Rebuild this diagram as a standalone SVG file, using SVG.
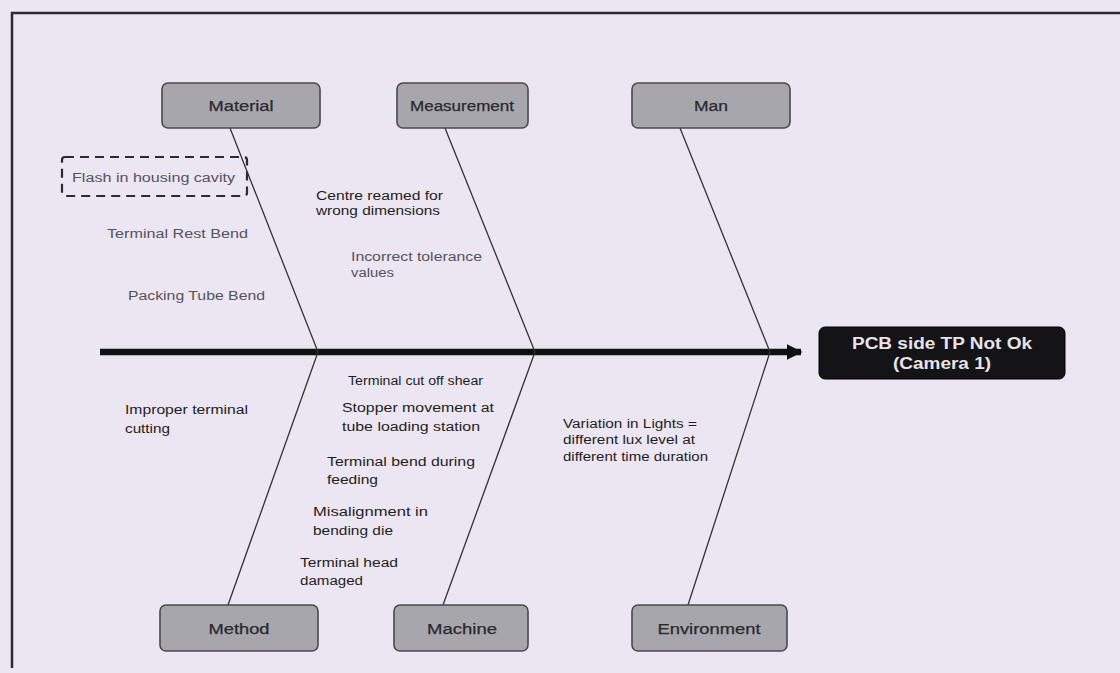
<svg xmlns="http://www.w3.org/2000/svg" width="1120" height="673" viewBox="0 0 1120 673">
  <defs>
    <marker id="spineHead" viewBox="0 0 10 10" refX="9" refY="5" markerWidth="2.4" markerHeight="2.4" orient="auto" markerUnits="strokeWidth">
      <path d="M0,0 L10,5 L0,10 z" fill="#111"/>
    </marker>
    <style>
      .frame { fill: none; stroke: #2a2830; stroke-width: 2.5; }
      .cat rect { fill: #a8a6ad; stroke: #4a4850; stroke-width: 1.6; }
      .cat text { font-family: "Liberation Sans", Arial, sans-serif; font-size: 14px; fill: #2a2a2e; stroke: #2a2a2e; stroke-width: 0.25; text-anchor: middle; }
      .bone { stroke: #333; stroke-width: 1.3; fill: none; }
      .spine { stroke: #111; stroke-width: 6.5; fill: none; }
      .cause { font-family: "Liberation Sans", Arial, sans-serif; font-size: 12.5px; fill: #1e1e22; }
      .cause.soft { fill: #55535a; }
      .effect rect { fill: #141316; stroke: #000; stroke-width: 1; }
      .effect text { font-family: "Liberation Sans", Arial, sans-serif; font-size: 16px; font-weight: bold; fill: #e6e3ea; text-anchor: middle; }
      .dashed { fill: none; stroke: #2c2a33; stroke-width: 2.2; stroke-dasharray: 9 6; }
    </style>
  </defs>

  <!-- page background -->
  <rect x="0" y="0" width="1120" height="673" fill="#ece5f2"/>
  <path class="frame" d="M12,668 L12,13 L1120,13"/>

  <!-- spine and category bones -->
  <g id="connectors">
    <line class="spine" x1="100" y1="352" x2="801" y2="352" marker-end="url(#spineHead)"/>
    <polyline class="bone" points="230,128 318,352 228,605"/>
    <polyline class="bone" points="445,128 535,352 443,605"/>
    <polyline class="bone" points="680,128 770,352 688,605"/>
  </g>

  <!-- category boxes -->
  <g id="material" class="cat">
    <rect x="162" y="83" width="158" height="45" rx="6"/>
    <text x="241" y="111" textLength="65" lengthAdjust="spacingAndGlyphs">Material</text>
  </g>
  <g id="measurement" class="cat">
    <rect x="397" y="83" width="131" height="45" rx="6"/>
    <text x="462" y="111" textLength="104" lengthAdjust="spacingAndGlyphs">Measurement</text>
  </g>
  <g id="man" class="cat">
    <rect x="632" y="83" width="158" height="45" rx="6"/>
    <text x="711" y="111" textLength="34" lengthAdjust="spacingAndGlyphs">Man</text>
  </g>
  <g id="method" class="cat">
    <rect x="160" y="605" width="158" height="46" rx="6"/>
    <text x="239" y="634" textLength="61" lengthAdjust="spacingAndGlyphs">Method</text>
  </g>
  <g id="machine" class="cat">
    <rect x="394" y="605" width="134" height="46" rx="6"/>
    <text x="462" y="634" textLength="70" lengthAdjust="spacingAndGlyphs">Machine</text>
  </g>
  <g id="environment" class="cat">
    <rect x="632" y="605" width="155" height="46" rx="6"/>
    <text x="709" y="634" textLength="103" lengthAdjust="spacingAndGlyphs">Environment</text>
  </g>

  <!-- effect -->
  <g id="effect" class="effect">
    <rect x="819" y="327" width="246" height="52" rx="6"/>
    <text x="942" y="349" textLength="180" lengthAdjust="spacingAndGlyphs">PCB side TP Not Ok</text>
    <text x="942" y="369" textLength="98" lengthAdjust="spacingAndGlyphs">(Camera 1)</text>
  </g>

  <!-- material causes -->
  <g id="material-causes">
    <rect class="dashed" x="62" y="157" width="185" height="39" rx="3"/>
    <text class="cause soft" x="72" y="182" textLength="163" lengthAdjust="spacingAndGlyphs">Flash in housing cavity</text>
    <text class="cause soft" x="107" y="238" textLength="141" lengthAdjust="spacingAndGlyphs">Terminal Rest Bend</text>
    <text class="cause soft" x="128" y="300" textLength="137" lengthAdjust="spacingAndGlyphs">Packing Tube Bend</text>
  </g>

  <!-- measurement causes -->
  <g id="measurement-causes">
    <text class="cause" x="316" y="200" textLength="127" lengthAdjust="spacingAndGlyphs">Centre reamed for</text>
    <text class="cause" x="316" y="215" textLength="124" lengthAdjust="spacingAndGlyphs">wrong dimensions</text>
    <text class="cause soft" x="351" y="261" textLength="131" lengthAdjust="spacingAndGlyphs">Incorrect tolerance</text>
    <text class="cause soft" x="351" y="277" textLength="43" lengthAdjust="spacingAndGlyphs">values</text>
  </g>

  <!-- method causes -->
  <g id="method-causes">
    <text class="cause" x="125" y="414" textLength="123" lengthAdjust="spacingAndGlyphs">Improper terminal</text>
    <text class="cause" x="125" y="433" textLength="45" lengthAdjust="spacingAndGlyphs">cutting</text>
  </g>

  <!-- machine causes -->
  <g id="machine-causes">
    <text class="cause" x="348" y="385" textLength="135" lengthAdjust="spacingAndGlyphs">Terminal cut off shear</text>
    <text class="cause" x="342" y="412" textLength="152" lengthAdjust="spacingAndGlyphs">Stopper movement at</text>
    <text class="cause" x="342" y="431" textLength="138" lengthAdjust="spacingAndGlyphs">tube loading station</text>
    <text class="cause" x="327" y="466" textLength="148" lengthAdjust="spacingAndGlyphs">Terminal bend during</text>
    <text class="cause" x="327" y="484" textLength="51" lengthAdjust="spacingAndGlyphs">feeding</text>
    <text class="cause" x="313" y="516" textLength="115" lengthAdjust="spacingAndGlyphs">Misalignment in</text>
    <text class="cause" x="313" y="535" textLength="80" lengthAdjust="spacingAndGlyphs">bending die</text>
    <text class="cause" x="300" y="567" textLength="98" lengthAdjust="spacingAndGlyphs">Terminal head</text>
    <text class="cause" x="300" y="585" textLength="63" lengthAdjust="spacingAndGlyphs">damaged</text>
  </g>

  <!-- environment causes -->
  <g id="environment-causes">
    <text class="cause" x="563" y="428" textLength="134" lengthAdjust="spacingAndGlyphs">Variation in Lights =</text>
    <text class="cause" x="563" y="444" textLength="132" lengthAdjust="spacingAndGlyphs">different lux level at</text>
    <text class="cause" x="563" y="461" textLength="145" lengthAdjust="spacingAndGlyphs">different time duration</text>
  </g>
</svg>
